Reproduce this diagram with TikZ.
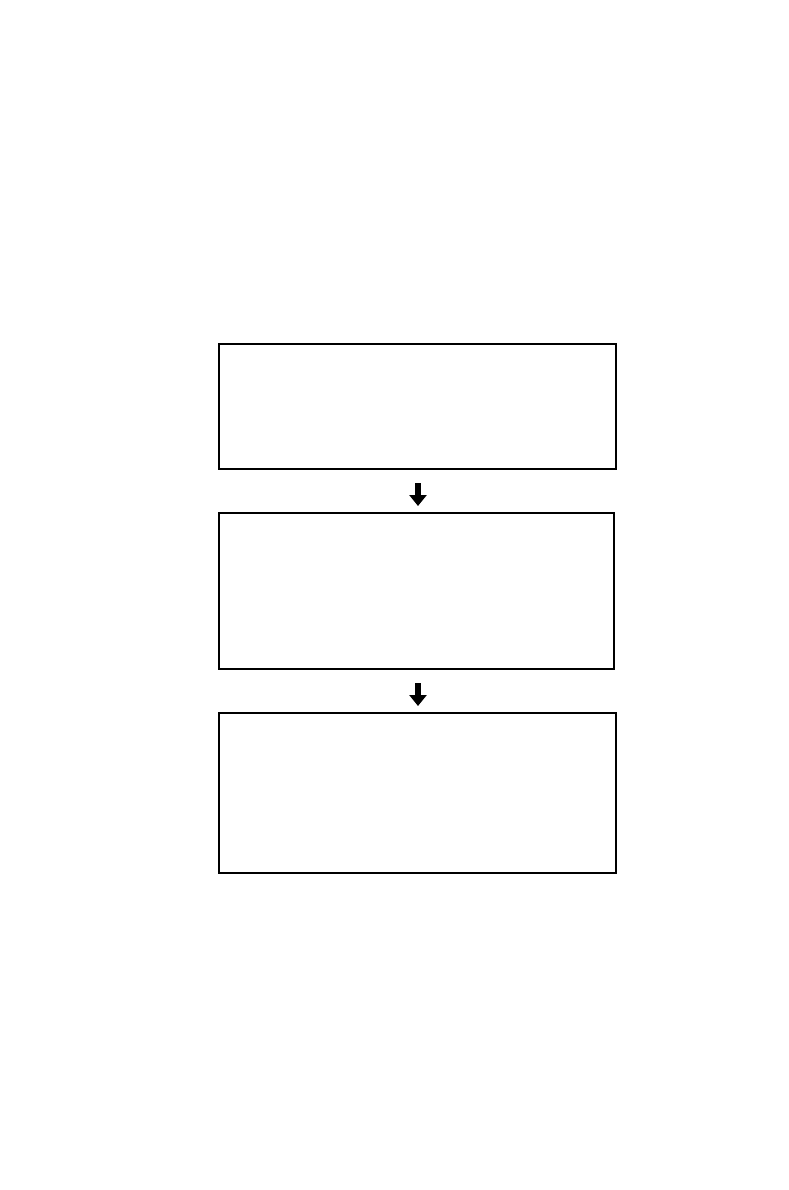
\documentclass[tikz,border=0pt]{standalone}
\usepackage{tikz}
\usetikzlibrary{arrows.meta,positioning,calc}

\tikzset{
	stagebox/.style={draw,line width=1.1pt,inner sep=0pt,fill=white},
	downarrow/.style={-{Triangle[width=17pt,length=11pt]},line width=6pt}
}

\begin{document}
\begin{tikzpicture}[x=1pt,y=-1pt]
		\useasboundingbox (0,0) rectangle (788,1190);
		\node[stagebox,minimum width=397pt,minimum height=125pt] (stage1) at (417.5,406.5) {};
		\node[stagebox,minimum width=395pt,minimum height=156pt] (stage2) at (416.5,591) {};
		\node[stagebox,minimum width=397pt,minimum height=160pt] (stage3) at (417.5,793) {};
		
		\coordinate (arr1top) at (418,483);
		\coordinate (arr1end) at (418,506);
		\coordinate (arr2top) at (418,683);
		\coordinate (arr2end) at (418,706);
		\draw[downarrow] (arr1top) -- (arr1end);
		\draw[downarrow] (arr2top) -- (arr2end);
	\end{tikzpicture}
\end{document}
